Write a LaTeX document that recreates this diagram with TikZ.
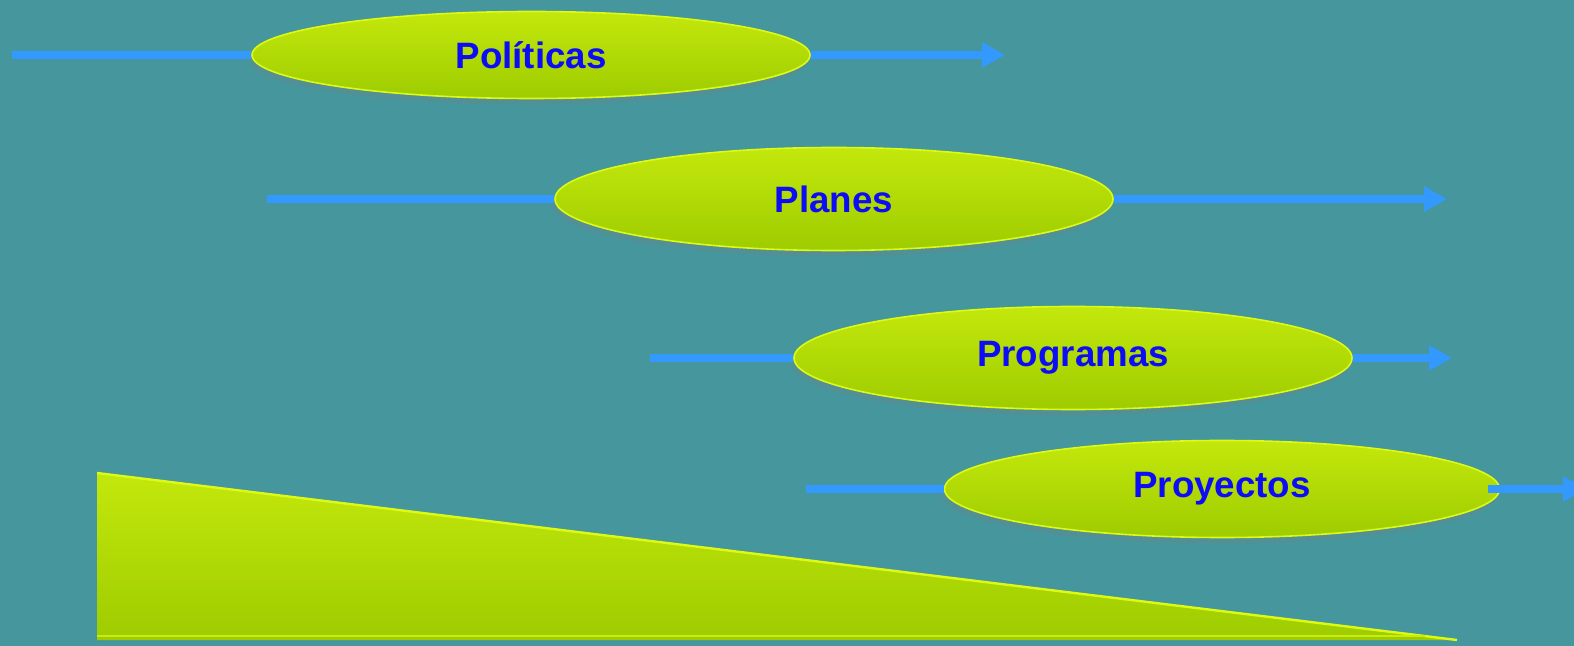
\documentclass[tikz,border=0pt]{standalone}
\usepackage{fontspec}
\setmainfont{Liberation Sans}
\usetikzlibrary{shapes.geometric,arrows.meta,shadows}
\definecolor{bgteal}{RGB}{69,150,157}
\definecolor{flowblue}{RGB}{51,153,255}
\definecolor{leafgreen}{RGB}{158,204,0}
\definecolor{leaflight}{RGB}{220,250,20}
\definecolor{labelblue}{RGB}{12,12,245}
\tikzset{
  stage/.style={ellipse,inner sep=0pt,minimum width=279pt,top color=leaflight!60!leafgreen,bottom color=leafgreen,draw=leaflight,line width=.8pt,
    text=labelblue,font=\fontsize{18.35}{20}\selectfont\bfseries,drop shadow={opacity=.25,shadow xshift=-1.5pt,shadow yshift=-3pt}},
  flow/.style={flowblue,line width=4pt},
  flowtip/.style={flow,-{Triangle[length=11.5pt,width=12pt]}}
}
\begin{document}
\begin{tikzpicture}[x=.5pt,y=-.5pt]
\clip (0,0) rectangle (1574,646);
\fill[bgteal] (0,0) rectangle (1574,646);
\shade[top color=leaflight!60!leafgreen,bottom color=leafgreen] (97,473) -- (1457,640) -- (97,640) -- cycle;
\draw[leaflight,line width=1.2pt] (97,473) -- (1457,640);
\draw[leaflight!70!leafgreen,line width=.8pt] (97,636) -- (1425,636);
\node[stage,minimum height=43.5pt] (pol) at (531,55) {Políticas};
\node[stage,minimum height=51.5pt] (pla) at (834,199) {Planes};
\node[stage,minimum height=51.5pt] (pro) at (1073,358) {Programas};
\node[stage,minimum height=48.5pt,minimum width=277.5pt] (proy) at (1222,489) {Proyectos};
\coordinate (pol-in) at (12,55);
\coordinate (pol-out) at (1005,55);
\coordinate (pla-in) at (267,199);
\coordinate (pla-out) at (1447,199);
\coordinate (pro-in) at (650,358);
\coordinate (pro-out) at (1452,358);
\coordinate (proy-in) at (806,489);
\coordinate (proy-out) at (1586,489);
\draw[flow] (pol-in) -- (pol.west);
\draw[flowtip] (pol.east) -- (pol-out);
\draw[flow] (pla-in) -- (pla.west);
\draw[flowtip] (pla.east) -- (pla-out);
\draw[flow] (pro-in) -- (pro.west);
\draw[flowtip] (pro.east) -- (pro-out);
\draw[flow] (proy-in) -- (proy.west);
\draw[flowtip] ([xshift=-6pt]proy.east) -- (proy-out);
\end{tikzpicture}
\end{document}
